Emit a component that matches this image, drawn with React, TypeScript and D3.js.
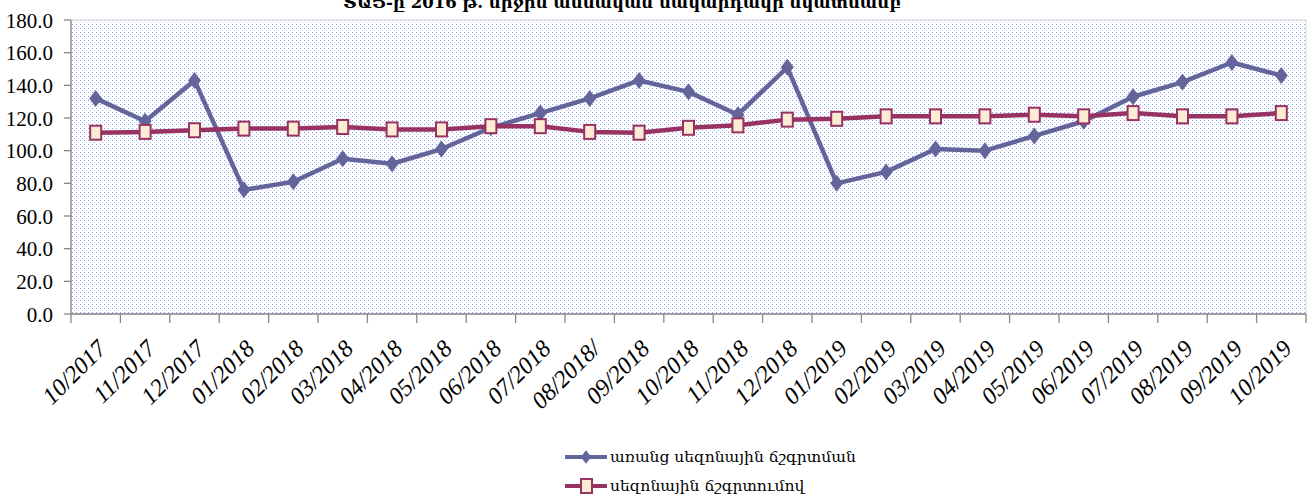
import React from 'react'
import * as d3 from 'd3'

const months = [
  '10/2017', '11/2017', '12/2017', '01/2018', '02/2018', '03/2018', '04/2018', '05/2018', '06/2018',
  '07/2018', '08/2018/', '09/2018', '10/2018', '11/2018', '12/2018', '01/2019', '02/2019', '03/2019',
  '04/2019', '05/2019', '06/2019', '07/2019', '08/2019', '09/2019', '10/2019'
]

const rawSeries = [
  132, 118, 143, 76, 81, 95, 92, 101, 114, 123, 132, 143, 136, 122, 151,
  80, 87, 101, 100, 109, 118, 133, 142, 154, 146
]

const adjustedSeries = [
  111, 111.5, 112.5, 113.5, 113.5, 114.5, 113, 113, 115, 115, 111.5, 111, 114, 115.5, 119,
  119.5, 121, 121, 121, 122, 121, 123, 121, 121, 123
]

const yTicks = [0, 20, 40, 60, 80, 100, 120, 140, 160, 180]

const rawName = 'առանց սեզոնային ճշգրտման'
const adjustedName = 'սեզոնային  ճշգրտումով'
const title = 'ՏԱՑ-ը 2016 թ. միջին ամսական մակարդակի նկատմամբ'

const W = 1314
const H = 504
const left = 71
const right = 1306
const top = 20
const bottom = 314

const blue = '#63659a'
const maroon = '#983263'
const narrow = 'Liberation Sans Narrow, Liberation Serif, DejaVu Sans Condensed, serif'
const armenian = 'DejaVu Serif, DejaVu Sans, serif'

export default function App() {
  const x = d3.scaleBand<string>().domain(months).range([left, right])
  const y = d3.scaleLinear().domain([0, 180]).range([bottom, top])
  const cx = (m: string) => (x(m) as number) + x.bandwidth() / 2

  const line = d3.line<number>()
    .x((_, i) => cx(months[i]))
    .y(d => y(d))

  const diamond = (px: number, py: number, s = 1) =>
    `M${px},${py - 8.5 * s}L${px + 6.5 * s},${py}L${px},${py + 8.5 * s}L${px - 6.5 * s},${py}Z`

  const boundaries = months.map(m => x(m) as number).concat([right])

  return (
    <svg width={W} height={H} style={{ position: 'absolute', left: 0, top: 0, background: '#fff' }}>
      <defs>
        <pattern id="dots" width="4" height="4" patternUnits="userSpaceOnUse">
          <rect width="4" height="4" fill="#ffffff" />
          <rect x="0" y="0" width="1" height="1" fill="#7f9ff0" />
          <rect x="2" y="2" width="1" height="1" fill="#b4c8f6" />
        </pattern>
      </defs>

      <text x={622} y={8} textAnchor="middle" fontWeight="bold" fontSize={16.5} fill="#000"
        style={{ fontFamily: armenian }}>
        {title}
      </text>

      <rect x={left} y={top} width={right - left} height={bottom - top} fill="url(#dots)" stroke="#d4d4d4" strokeWidth={1} />

      {/* y axis */}
      <line x1={left} x2={left} y1={top} y2={bottom} stroke="#888" strokeWidth={1.3} />
      {yTicks.map(t => (
        <g key={t}>
          <line x1={left - 7} x2={left} y1={y(t)} y2={y(t)} stroke="#888" strokeWidth={1.3} />
          <text x={53} y={y(t)} dy="0.36em" textAnchor="end" fontSize={21} fill="#000"
            style={{ fontFamily: narrow, fontStretch: 'condensed' }}>
            {t.toFixed(1)}
          </text>
        </g>
      ))}

      {/* x axis */}
      <line x1={left} x2={right} y1={bottom} y2={bottom} stroke="#888" strokeWidth={1.5} />
      {boundaries.map((b, i) => (
        <line key={i} x1={b} x2={b} y1={bottom} y2={bottom + 9} stroke="#888" strokeWidth={1.3} />
      ))}
      {months.map(m => (
        <text key={m} transform={`translate(${cx(m) + 12},${bottom + 36}) rotate(-45)`} textAnchor="end"
          fontStyle="italic" fontSize={24} fill="#000"
          style={{ fontFamily: narrow, fontStretch: 'condensed' }}>
          {m}
        </text>
      ))}

      {/* series */}
      <path d={line(rawSeries) || ''} fill="none" stroke={blue} strokeWidth={4.5} strokeLinejoin="round" />
      {rawSeries.map((v, i) => (
        <path key={i} d={diamond(cx(months[i]), y(v))} fill={blue} />
      ))}

      <path d={line(adjustedSeries) || ''} fill="none" stroke={maroon} strokeWidth={4.5} strokeLinejoin="round" />
      {adjustedSeries.map((v, i) => (
        <rect key={i} x={cx(months[i]) - 5.5} y={y(v) - 7} width={11} height={14} fill="#fdecd4" stroke={maroon}
          strokeWidth={2} />
      ))}

      {/* legend */}
      <line x1={565} x2={607} y1={457} y2={457} stroke={blue} strokeWidth={4} />
      <path d={diamond(586, 457, 0.8)} fill={blue} />
      <text x={610} y={457} dy="0.35em" fontSize={15.5} fill="#000" style={{ fontFamily: armenian }}>{rawName}</text>

      <line x1={565} x2={607} y1={486} y2={486} stroke={maroon} strokeWidth={4} />
      <rect x={581} y={479} width={11} height={14} fill="#fdecd4" stroke={maroon} strokeWidth={2} />
      <text x={610} y={486} dy="0.35em" fontSize={15.5} fill="#000" style={{ fontFamily: armenian }}>{adjustedName}</text>
    </svg>
  )
}
